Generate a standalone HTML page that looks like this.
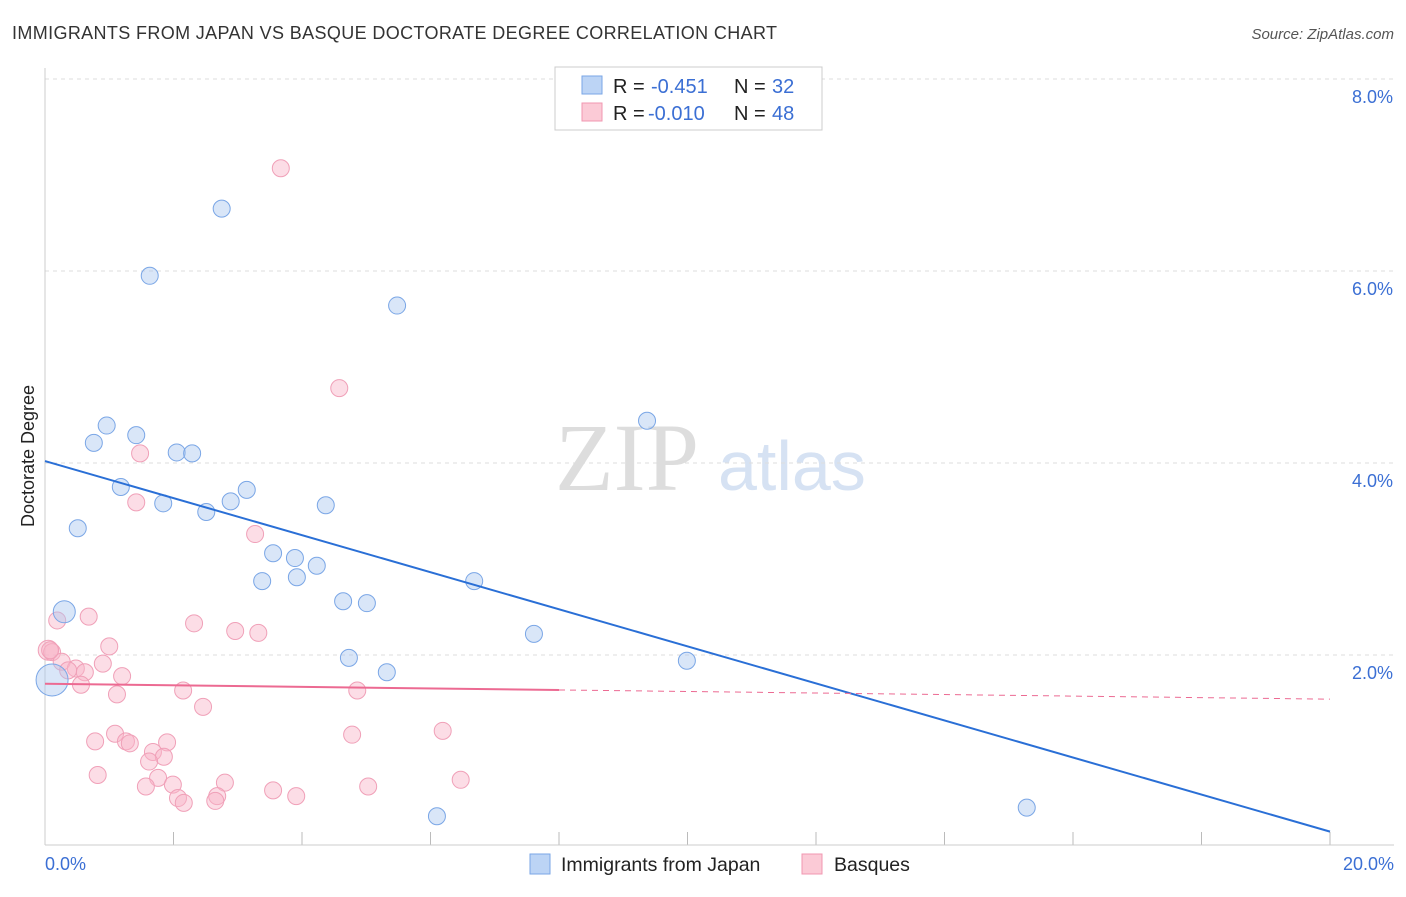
<!DOCTYPE html>
<html><head><meta charset="utf-8"><style>
body{margin:0;background:#fff;font-family:"Liberation Sans",sans-serif}
</style></head><body>
<svg width="1406" height="892" xmlns="http://www.w3.org/2000/svg" font-family="Liberation Sans, sans-serif">
<text x="12" y="39" font-size="18" fill="#333" textLength="765" lengthAdjust="spacing">IMMIGRANTS FROM JAPAN VS BASQUE DOCTORATE DEGREE CORRELATION CHART</text>
<text x="1394" y="39" font-size="15" fill="#555" text-anchor="end" font-style="italic">Source: ZipAtlas.com</text>
<text x="555" y="490" font-size="96" fill="#ddd" font-family="Liberation Serif, serif">ZIP</text>
<text x="718" y="490" font-size="70" fill="#d6e2f3">atlas</text>
<g id="grid"></g>
<line x1="45" y1="845" x2="1394" y2="845" stroke="#ccc"/>
<line x1="45" y1="68" x2="45" y2="845" stroke="#ccc"/>
<text transform="translate(34,456) rotate(-90)" font-size="18" fill="#222" text-anchor="middle">Doctorate Degree</text>
<text x="45" y="870" font-size="18" fill="#3b6fd4">0.0%</text>
<text x="1394" y="870" font-size="18" fill="#3b6fd4" text-anchor="end">20.0%</text>
<g id="pts"></g>
<g id="lines"></g>
<g>
<rect x="555" y="67" width="267" height="63" fill="#fff" stroke="#ccc"/>
<rect x="582" y="76" width="20" height="18" fill="#bcd4f5" stroke="#7aa6e6"/>
<rect x="582" y="103" width="20" height="18" fill="#fbcad6" stroke="#f097b0"/>
<text x="613" y="93" font-size="20" fill="#222">R =</text>
<text x="651" y="93" font-size="20" fill="#3b6fd4">-0.451</text>
<text x="734" y="93" font-size="20" fill="#222">N =</text>
<text x="772" y="93" font-size="20" fill="#3b6fd4">32</text>
<text x="613" y="120" font-size="20" fill="#222">R =</text>
<text x="648" y="120" font-size="20" fill="#3b6fd4">-0.010</text>
<text x="734" y="120" font-size="20" fill="#222">N =</text>
<text x="772" y="120" font-size="20" fill="#3b6fd4">48</text>
</g>
<g>
<rect x="530" y="854" width="20" height="20" fill="#bcd4f5" stroke="#7aa6e6"/>
<text x="561" y="871" font-size="19.5" fill="#222">Immigrants from Japan</text>
<rect x="802" y="854" width="20" height="20" fill="#fbcad6" stroke="#f097b0"/>
<text x="834" y="871" font-size="19.5" fill="#222">Basques</text>
</g>
</svg>
<script>
const yTicks=[2,4,6,8];
const yTickLabels=["2.0%","4.0%","6.0%","8.0%"];
const xTicks=[0,2,4,6,8,10,12,14,16,18,20];
const japanX=[2.75,1.63,5.48,9.37,0.96,1.42,0.76,2.05,2.29,1.18,3.14,2.89,1.84,4.37,2.51,0.51,3.55,3.89,4.23,3.92,3.38,6.68,4.64,5.01,0.30,7.61,4.73,9.99,5.32,0.11,15.28,6.10];
const japanY=[6.65,5.95,5.64,4.44,4.39,4.29,4.21,4.11,4.10,3.75,3.72,3.60,3.58,3.56,3.49,3.32,3.06,3.01,2.93,2.81,2.77,2.77,2.56,2.54,2.45,2.22,1.97,1.94,1.82,1.74,0.41,0.32];
const basqueX=[3.67,4.58,1.48,1.42,3.27,0.68,2.32,0.19,2.96,3.32,1.00,0.05,0.11,0.26,0.90,0.48,0.62,0.36,1.20,0.56,2.15,4.86,1.12,2.46,6.19,4.78,1.09,0.78,1.26,1.32,1.90,1.68,1.85,1.62,0.82,6.47,1.76,2.80,1.99,1.57,3.55,5.03,2.68,2.07,3.91,2.16,2.65,0.08];
const basqueY=[7.07,4.78,4.10,3.59,3.26,2.40,2.33,2.36,2.25,2.23,2.09,2.05,2.03,1.93,1.91,1.86,1.82,1.84,1.78,1.69,1.63,1.63,1.59,1.46,1.21,1.17,1.18,1.10,1.10,1.08,1.09,0.99,0.94,0.89,0.75,0.70,0.72,0.67,0.65,0.63,0.59,0.63,0.53,0.51,0.53,0.46,0.48,2.05];
const japanTrend=[4.02,0.16];
const basqueTrend=[1.70,1.54];
const sx=v=>45+v*64.25, sy=v=>847-v*96;
const NS="http://www.w3.org/2000/svg";
function mk(t,a,p){const e=document.createElementNS(NS,t);for(const k in a)e.setAttribute(k,a[k]);p.appendChild(e);return e;}
const grid=document.getElementById('grid');
yTicks.forEach((t,i)=>{
 const l=mk('line',{x1:45,x2:1394,y1:sy(t),y2:sy(t),stroke:'#ddd','stroke-dasharray':'4,4'},grid);
 
 
 const tx=mk('text',{x:1393,y:sy(t)+24,'font-size':18,fill:'#3b6fd4','text-anchor':'end'},grid);
 tx.textContent=yTickLabels[i];
 
 
});
xTicks.forEach(t=>{
 const l=mk('line',{x1:sx(t),x2:sx(t),y1:832,y2:845,stroke:'#bbb'},grid);
 
 
});
const pts=document.getElementById('pts');
basqueX.forEach((x,i)=>{
 const r=(i===11)?10:8.5;
 const c=mk('circle',{cx:sx(x),cy:sy(basqueY[i]),r:r,fill:'rgba(248,180,200,0.45)',stroke:'#f0a0b8','stroke-width':1},pts);
 
 
});
japanX.forEach((x,i)=>{
 const r=(i===29)?16:(i===24)?11:8.5;
 const c=mk('circle',{cx:sx(x),cy:sy(japanY[i]),r:r,fill:'rgba(170,200,240,0.45)',stroke:'#7aa6e6','stroke-width':1},pts);
 
 
});
const lines=document.getElementById('lines');
const jl=mk('line',{x1:sx(0),y1:sy(japanTrend[0]),x2:sx(20),y2:sy(japanTrend[1]),stroke:'#2a6fd6','stroke-width':2},lines);


const bAt=v=>basqueTrend[0]+(basqueTrend[1]-basqueTrend[0])*v/20;
const bl=mk('line',{x1:sx(0),y1:sy(bAt(0)),x2:sx(8),y2:sy(bAt(8)),stroke:'#ec6a92','stroke-width':2},lines);


const bd=mk('line',{x1:sx(8),y1:sy(bAt(8)),x2:sx(20),y2:sy(bAt(20)),stroke:'#ec6a92','stroke-width':1,'stroke-dasharray':'6,5'},lines);


</script>
</body></html>
